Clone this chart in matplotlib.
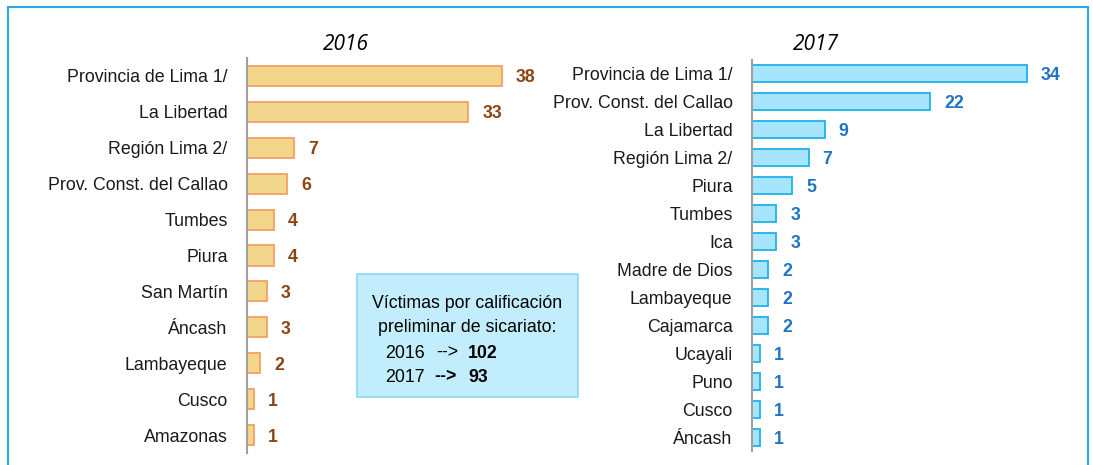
import matplotlib
matplotlib.use('Agg')
import matplotlib.pyplot as plt
from matplotlib.patches import Rectangle

# datos
regiones_2016 = ['Provincia de Lima 1/', 'La Libertad', 'Región Lima 2/', 'Prov. Const. del Callao',
                 'Tumbes', 'Piura', 'San Martín', 'Áncash', 'Lambayeque', 'Cusco', 'Amazonas']
valores_2016 = [38, 33, 7, 6, 4, 4, 3, 3, 2, 1, 1]

regiones_2017 = ['Provincia de Lima 1/', 'Prov. Const. del Callao', 'La Libertad', 'Región Lima 2/',
                 'Piura', 'Tumbes', 'Ica', 'Madre de Dios', 'Lambayeque', 'Cajamarca',
                 'Ucayali', 'Puno', 'Cusco', 'Áncash']
valores_2017 = [34, 22, 9, 7, 5, 3, 3, 2, 2, 2, 1, 1, 1, 1]

total_2016 = 102
total_2017 = 93

W, H = 1093, 465
FONT = ['Liberation Sans', 'DejaVu Sans']
FS = 12.8

fig = plt.figure(figsize=(W / 100, H / 100), dpi=100)

# marco azul
fig.patches.append(Rectangle((8 / W, -0.1), (1088 - 8) / W, (465 - 7) / H + 0.1,
                             transform=fig.transFigure, fill=False,
                             edgecolor='#29abe2', linewidth=1.5))


def panel(left_px, top_px, bot_px, width_px, px_per_unit, names, vals, fill, edge, txtcol, bh, title, title_x):
    ax = fig.add_axes([left_px / W, (H - bot_px) / H, width_px / W, (bot_px - top_px) / H])
    y = list(range(len(names)))
    ax.barh(y, vals, height=bh, color=fill, edgecolor=edge, linewidth=1.3)
    ax.set_xlim(0, width_px / px_per_unit)
    ax.set_ylim(len(names) - 0.5, -0.5)
    ax.set_yticks(y)
    ax.set_yticklabels(names, family=FONT, fontsize=FS, color='#1a1a1a')
    ax.tick_params(axis='y', length=0, pad=14)
    ax.set_xticks([])
    for s in ['top', 'right', 'bottom']:
        ax.spines[s].set_visible(False)
    ax.spines['left'].set_color('#a0a0a0')
    ax.spines['left'].set_linewidth(1.5)
    for yi, v in zip(y, vals):
        ax.text(v + 14 / px_per_unit, yi, str(v), va='center_baseline', ha='left',
                family=FONT, fontsize=FS, fontweight='bold', color=txtcol)
    fig.text(title_x / W, (H - 45) / H, title, ha='center', va='center',
             fontsize=15, style='italic', family=['Open Sans', 'DejaVu Sans'])
    return ax


panel(247, 58, 453, 300, 255 / 38, regiones_2016, valores_2016,
      '#f2d68c', '#f3a062', '#8b4513', 0.56, '2016', 346)
panel(752, 60, 451, 300, 275 / 34, regiones_2017, valores_2017,
      '#a6e5fb', '#1fb2ea', '#1f74c4', 0.61, '2017', 816)

# recuadro de totales
fig.patches.append(Rectangle((357 / W, (H - 397) / H), (578 - 357) / W, (397 - 274) / H,
                             transform=fig.transFigure, facecolor='#c2edfd',
                             edgecolor='#8fd6f3', linewidth=1.2))
fig.text(467 / W, (H - 301) / H, 'Víctimas por calificación', ha='center', va='center_baseline',
         family=FONT, fontsize=FS)
fig.text(467 / W, (H - 326) / H, 'preliminar de sicariato:', ha='center', va='center_baseline',
         family=FONT, fontsize=FS)
fig.text(385 / W, (H - 351) / H, '2016', ha='left', va='center_baseline', family=FONT, fontsize=FS)
fig.text(436 / W, (H - 351) / H, '-->', ha='left', va='center_baseline', family=FONT, fontsize=FS)
fig.text(468 / W, (H - 351) / H, str(total_2016), ha='left', va='center_baseline', family=FONT,
         fontsize=FS, fontweight='bold')
fig.text(385 / W, (H - 375) / H, '2017', ha='left', va='center_baseline', family=FONT, fontsize=FS)
fig.text(434 / W, (H - 375) / H, '-->', ha='left', va='center_baseline', family=FONT,
         fontsize=FS, fontweight='bold')
fig.text(468 / W, (H - 375) / H, str(total_2017), ha='left', va='center_baseline', family=FONT,
         fontsize=FS, fontweight='bold')

fig.savefig('out.png', dpi=100)
